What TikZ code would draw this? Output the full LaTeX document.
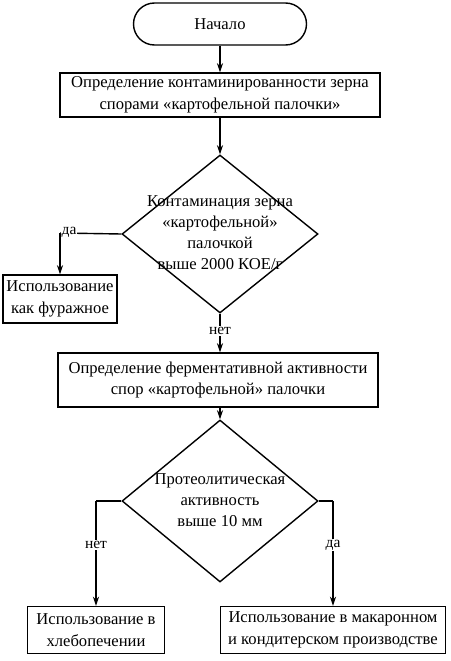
\documentclass[tikz,border=0pt]{standalone}
\usepackage{fontspec}
\setmainfont{Liberation Serif}
\usetikzlibrary{arrows.meta,shapes.geometric}
\tikzset{
  base/.style={draw, line width=1.4pt, font=\fontsize{16.6}{21.5}\selectfont, align=center, inner sep=0pt},
  proc/.style={base, rectangle},
  term/.style={base, rectangle, rounded corners=21pt},
  dec/.style={draw, line width=1.4pt, diamond, inner sep=0pt},
  dectext/.style={font=\fontsize{16.6}{21}\selectfont, align=center},
  lbl/.style={fill=white, inner sep=1pt, font=\fontsize{15.5}{18}\selectfont},
  arr/.style={line width=1.4pt, -{Stealth[length=9pt,width=6pt]}},
  ln/.style={line width=1.4pt}
}
\begin{document}
\begin{tikzpicture}[x=1pt,y=-1pt]
\useasboundingbox (0,0) rectangle (450,661);
\node[term, minimum width=173pt, minimum height=42pt] (start) at (220,24) {Начало};
\node[proc, minimum width=320pt, minimum height=44pt] (p1) at (220,95) {Определение контаминированности зерна\\спорами «картофельной палочки»};
\node[dec, minimum width=196pt, minimum height=158pt] (d1) at (220,234) {};
\node[dectext] (d1t) at (220,233) {Контаминация зерна\\«картофельной»\\палочкой\\выше 2000 КОЕ/г};
\node[proc, minimum width=114pt, minimum height=48pt] (feed) at (60,299) {Использование\\как фуражное};
\node[proc, minimum width=320pt, minimum height=54pt] (p2) at (218,380) {Определение ферментативной активности\\спор «картофельной» палочки};
\node[dec, minimum width=196pt, minimum height=162pt] (d2) at (220,501) {};
\node[dectext] (d2t) at (220,500) {Протеолитическая\\активность\\выше 10 мм};
\node[proc, minimum width=137pt, minimum height=47pt] (bread) at (96,630) {Использование в\\хлебопечении};
\node[proc, minimum width=225pt, minimum height=47pt] (pasta) at (333,630) {Использование в макаронном\\и кондитерском производстве};

\coordinate (c1) at (60,233);
\coordinate (c2) at (96,501);
\coordinate (c3) at (333,501);

\draw[arr] (start) -- (p1);
\draw[arr] (p1) -- (d1);
\draw[ln] (d1.west) -- (c1);
\draw[arr] (c1) -- (feed);
\node[lbl] (yes1) at (69,232) {да};
\draw[arr] (d1.south) -- (p2.north -| d1.south) node[lbl, pos=0.45] (no1) {нет};
\draw[arr] (p2.south -| d2.north) -- (d2.north);
\draw[ln] (d2.west) -- (c2);
\draw[arr] (c2) -- (bread.north) node[lbl, pos=0.42] (no2) {нет};
\draw[ln] (d2.east) -- (c3);
\draw[arr] (c3) -- (pasta.north) node[lbl, pos=0.42] (yes2) {да};
\end{tikzpicture}
\end{document}
